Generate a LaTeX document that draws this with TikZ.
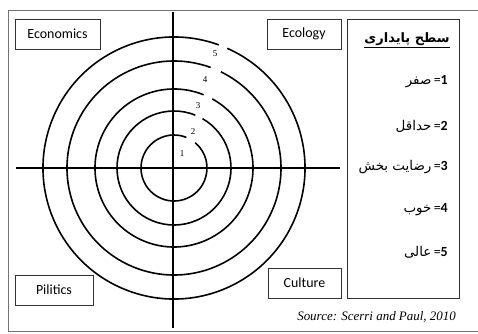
\documentclass[tikz,border=0pt]{standalone}
\usepackage{fontspec}
\setmainfont{Liberation Serif}
\newfontfamily\carlito{Carlito}
\newfontfamily\arabicfont[Script=Arabic]{DejaVu Sans}
\TeXXeTstate=1
\newcommand\arsz{\arabicfont\fontsize{13.5}{15}\selectfont}
\begin{document}
\begin{tikzpicture}[x=1bp,y=1bp,
  ring/.style={line width=1.6pt,black},
  axis/.style={line width=1.9pt,black},
  lbox/.style={draw=black!80,line width=0.7pt,minimum height=30bp,inner sep=0pt,font=\carlito\fontsize{14}{16}\selectfont},
  ringnum/.style={font=\fontsize{9}{10}\selectfont,inner sep=0pt},
  legitem/.style={anchor=east,inner sep=0pt,font=\fontsize{14}{16}\selectfont}]
\useasboundingbox (0,0) rectangle (478,333);
% outer frame
\draw[black!55,line width=0.7pt] (480,323) -- (8,323) -- (8,2) -- (480,2);
% centre
\coordinate (c) at (174,165);
% rings with gaps
\draw[ring] (c) ++(68:33) arc[start angle=68,end angle=410,radius=33];
\draw[ring] (c) ++(68:57) arc[start angle=68,end angle=420,radius=57];
\draw[ring] (c) ++(68:79) arc[start angle=68,end angle=421,radius=79];
\draw[ring] (c) ++(70:107) arc[start angle=70,end angle=424,radius=107];
\draw[ring] (c) ++(70:131) arc[start angle=70,end angle=426,radius=131];
% axes
\coordinate (hl) at (16,165);
\coordinate (hr) at (340,165);
\coordinate (vt) at (173,321);
\coordinate (vb) at (173,5);
\draw[axis] (hl) -- (hr);
\draw[axis] (vt) -- (vb);
% ring numbers
\node[ringnum] (n1) at (182,179) {1};
\node[ringnum] (n2) at (193,201) {2};
\node[ringnum] (n3) at (198,227) {3};
\node[ringnum] (n4) at (205,253) {4};
\node[ringnum] (n5) at (215,279) {5};
% category boxes
\node[lbox,minimum width=85bp] (eco) at (57.5,299) {Economics};
\node[lbox,minimum width=74bp] (ecol) at (304,299) {Ecology};
\node[lbox,minimum width=78bp] (pol) at (54,43) {Pilitics};
\node[lbox,minimum width=73bp] (cul) at (304.5,50) {Culture};
% legend
\node[draw=black!80,line width=0.7pt,minimum width=112bp,minimum height=279bp,inner sep=0pt] (leg) at (403,174.5) {};
\node[inner sep=0pt] (title) at (407,294) {\arabicfont\bfseries\fontsize{13}{15}\selectfont\beginR سطح پایداری\endR};
\draw[line width=0.9pt] ([yshift=-2bp]title.south west) -- ([yshift=-2bp]title.south east);
\node[legitem] (l1) at (448,251) {{\arsz\beginR صفر\endR}\,{\carlito=}{\carlito\bfseries 1}};
\node[legitem] (l2) at (448,207) {{\arsz\beginR حداقل\endR}\,{\carlito=}{\carlito\bfseries 2}};
\node[legitem] (l3) at (448,166) {{\arsz\beginR رضایت بخش\endR}\,{\carlito=}{\carlito\bfseries 3}};
\node[legitem] (l4) at (448,123) {{\arsz\beginR خوب\endR}\,{\carlito=}{\carlito\bfseries 4}};
\node[legitem] (l5) at (448,81) {{\arsz\beginR عالی\endR}\,{\carlito=}{\carlito\bfseries 5}};
% source
\node[anchor=east,inner sep=0pt,font=\itshape\fontsize{13}{15}\selectfont] (src) at (456,16) {Source: Scerri and Paul, 2010};
\end{tikzpicture}
\end{document}
